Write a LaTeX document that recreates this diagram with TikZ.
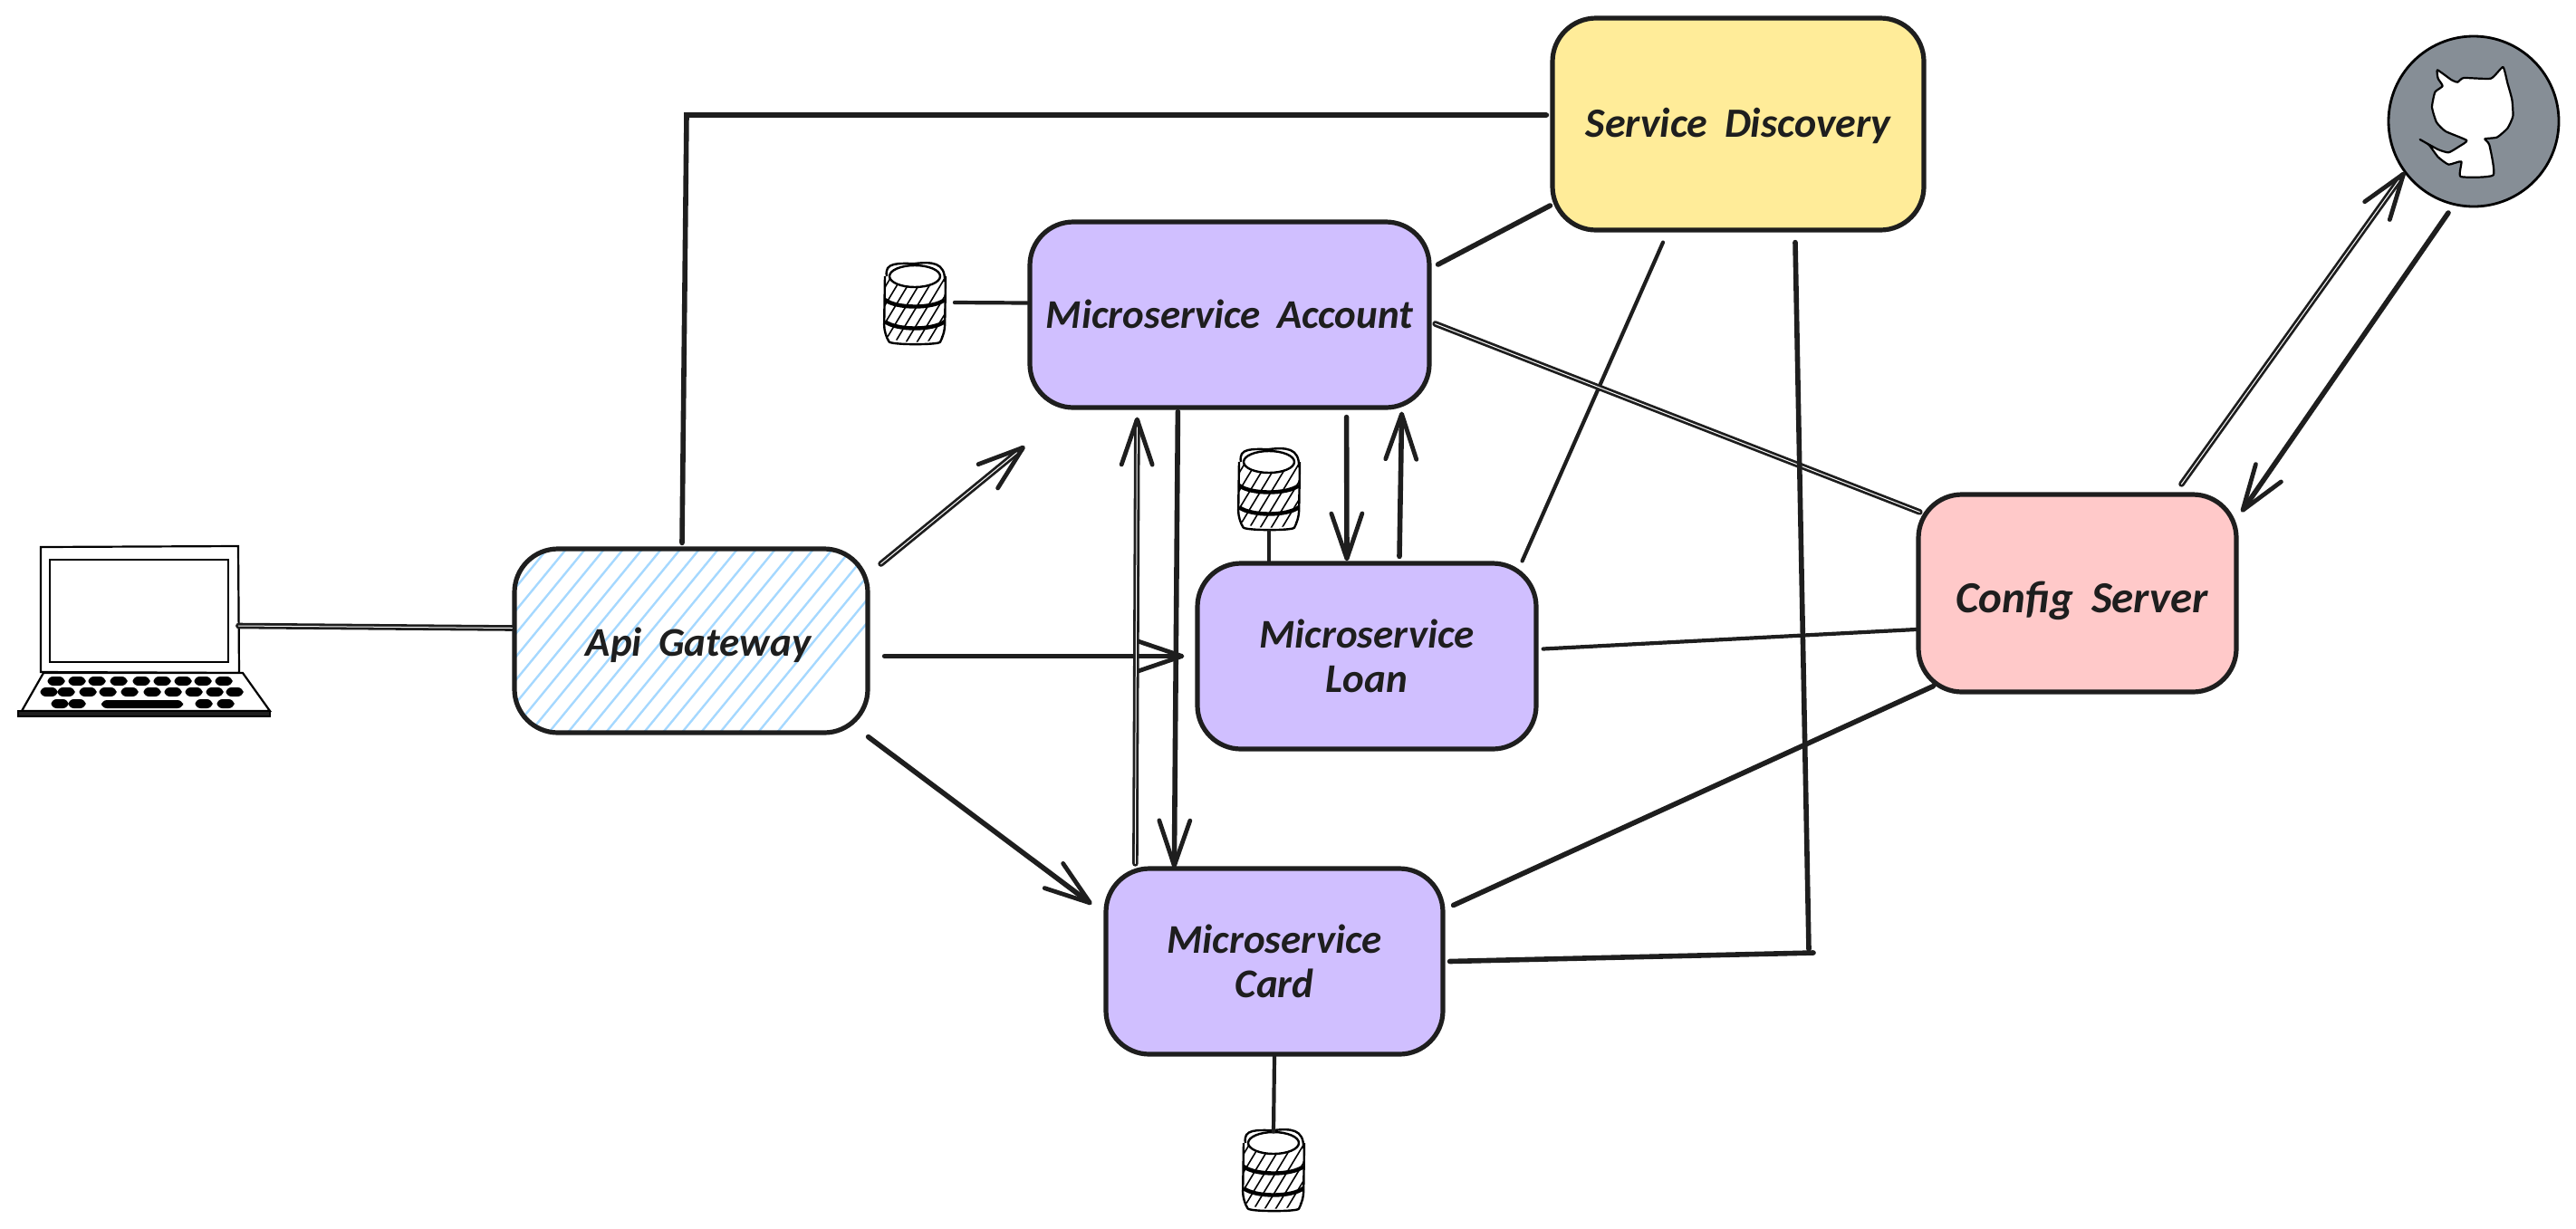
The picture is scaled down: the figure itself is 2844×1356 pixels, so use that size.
\documentclass[tikz,border=0pt]{standalone}
\usepackage{fontspec}
\setmainfont[WordSpace=1.8]{Carlito}
\usetikzlibrary{arrows.meta}
\definecolor{ink}{HTML}{1E1E1E}
\definecolor{purp}{HTML}{D0BFFF}
\definecolor{yel}{HTML}{FFEC99}
\definecolor{rose}{HTML}{FFC9C9}
\definecolor{hatchblue}{HTML}{A5D8FF}
\definecolor{ghgray}{HTML}{868E96}
\tikzset{
  box/.style={draw=ink,line width=2.6pt,rounded corners=24pt,inner sep=0pt,align=center,text=ink,
    font=\fontsize{22.5}{24.5}\selectfont\bfseries\itshape},
  link/.style={draw=ink,line width=2.8pt,line cap=round},
  thinlink/.style={draw=ink,line width=2.1pt,line cap=round},
  arr/.style={link,-{Straight Barb[length=25pt,width=17pt,line width=2.4pt,round]}},
  dbl/.style={double=white,double distance=0.5pt,line width=1.4pt},
  ghost/.style={inner sep=0pt,draw=none},
  dbicon/.pic={
    \begin{scope}
      \clip (-33,-32) -- (-33,33) .. controls (-28,46) and (28,46) .. (33,33) -- (33,-32) -- cycle;
      \foreach \i in {-8,...,8} \draw[black,line width=.8pt] (\i*12-26,50) -- (\i*12+26,-36);
    \end{scope}
    \draw[black,line width=1.2pt,rounded corners=5pt] (-33,-30) -- (-34,34) .. controls (-26,46) and (26,46) .. (33,34) -- (34,-30);
    \draw[black,line width=1.2pt] (-31,-30) .. controls (-34,-46) and (-18,-44) .. (0,-44) .. controls (18,-46) and (34,-46) .. (33,-24);
    \draw[black,line width=2.2pt] (-33,-4) .. controls (-20,6) and (20,6) .. (33,-4);
    \draw[black,line width=2.2pt] (-33,20) .. controls (-20,30) and (20,30) .. (33,20);
    \draw[black,line width=1.2pt,fill=white] (0,-30) ellipse [x radius=28,y radius=12];
  },
}
\begin{document}
\begin{tikzpicture}[x=0.5pt,y=-0.5pt]
\useasboundingbox (0,0) rectangle (2844,1356);

% nodes
\node[box,fill=yel,minimum width=205pt,minimum height=117pt] (sd) at (1919,137) {\fontsize{23}{25}\selectfont\raisebox{-7.1pt}[0pt][0pt]{Service Discovery}};
\node[box,fill=purp,minimum width=220.5pt,minimum height=102.5pt] (acc) at (1357.5,347.5) {\raisebox{1pt}{Microservice Account}};
\node[box,fill=purp,minimum width=187pt,minimum height=102.5pt] (loan) at (1509,724.5) {Microservice\\Loan};
\node[box,fill=purp,minimum width=186pt,minimum height=102.5pt] (card) at (1407,1061.5) {Microservice\\Card};
\node[box,fill=rose,minimum width=175.5pt,minimum height=109pt] (cfg) at (2293.5,655) {\fontsize{24.5}{27}\selectfont\hspace*{5pt}\raisebox{-10.5pt}[0pt][0pt]{Config Server}};
\node[box,minimum width=195pt,minimum height=101.5pt,
  path picture={
    \begin{scope}[shift={(path picture bounding box.center)}]
      \foreach \i in {0,...,30} \draw[hatchblue,line width=1.2pt] (\i*21-420,122) -- (\i*21-223,-118);
    \end{scope}
  }] (gw) at (763,707.5) {\hspace*{8pt}\raisebox{-8.6pt}[0pt][0pt]{Api Gateway}};

% laptop
\node[ghost,minimum width=139pt,minimum height=94pt] (laptop) at (159,697) {};
\begin{scope}[black]
  \draw[line width=1.1pt,fill=white] (45,604) -- (263,603) -- (264,743) -- (45,742) -- cycle;
  \draw[line width=1.3pt] (55,618) -- (252,618) -- (252,731) -- (55,731) -- cycle;
  \draw[line width=1.1pt,fill=white] (48,743) -- (268,743) -- (298,785) -- (24,785) -- cycle;
  \draw[line width=1.1pt,fill=ink] (20,785) rectangle (298,791);
  \foreach \kx in {62,85,107,131,156,179,202,224,247} \fill[rounded corners=3pt] (\kx-9.5,747) rectangle (\kx+9.5,757);
  \foreach \kx in {54,73,97,119,143,168,191,214,237,259} \fill[rounded corners=3pt] (\kx-9.5,759) rectangle (\kx+9.5,769);
  \foreach \kx in {66,85,225,249} \fill[rounded corners=3pt] (\kx-9.5,772) rectangle (\kx+9.5,782);
  \fill[rounded corners=3pt] (112,773) rectangle (202,782);
\end{scope}

% databases
\node[ghost,minimum width=35.5pt,minimum height=44pt] (db1) at (1010,335) {};
\pic at (db1) {dbicon};
\node[ghost,minimum width=35.5pt,minimum height=44pt] (db2) at (1401,540) {};
\pic at (db2) {dbicon};
\node[ghost,minimum width=35.5pt,minimum height=44pt] (db3) at (1406,1292) {};
\pic at (db3) {dbicon};

% github
\node[circle,fill=ghgray,draw=black,line width=1.4pt,minimum size=94pt,inner sep=0pt] (gh) at (2731,134) {};
\begin{scope}[shift={(2560,0)},x=0.16667pt,y=-0.16667pt]
  \draw[black,line width=1.1pt,fill=white,line join=round] plot[smooth cycle,tension=0.3] coordinates {
    (393,232) (440,265) (460,272) (480,258) (570,260) (610,222) (625,275) (640,330) (643,385) (625,425)
    (590,455) (550,460) (565,480) (578,580) (470,585) (472,535) (430,545) (395,520) (365,480) (335,462)
    (395,495) (430,505) (465,485) (490,465) (420,435) (390,405) (375,355) (385,305) (410,285) (395,260)};
\end{scope}

\coordinate (bend) at (758,127);
\coordinate (junc) at (2002,1052);

% connectors
\draw[link,dbl] ([shift={(-35,-6)}]laptop.east) -- ([shift={(0,-14)}]gw.west);
\draw[link] ([shift={(-10,-4)}]gw.north) -- (bend) -- ([shift={(-4,-10)}]sd.west);
\draw[arr,dbl] ([shift={(12,-85)}]gw.east) -- ([shift={(-3,40)}]acc.south west);
\draw[arr] ([shift={(16,17)}]gw.east) -- ([shift={(-12,0)}]loan.west);
\draw[arr] ([shift={(-2,2)}]gw.south east) -- ([shift={(-13,42)}]card.north west);
\draw[thinlink] ([shift={(8,-1)}]db1.east) -- ([shift={(0,-13)}]acc.west);
\draw[arr,dbl] ([shift={(35,-3)}]card.north west) -- ([shift={(121,8)}]acc.south west);
\draw[arr] ([shift={(166,2)}]acc.south west) -- ([shift={(78,2)}]card.north west);
\draw[arr] ([shift={(-94,8)}]acc.south east) -- ([shift={(-22,0)}]loan.north);
\draw[arr] ([shift={(36,-5)}]loan.north) -- ([shift={(-33,2)}]acc.south east);
\draw[thinlink] ([shift={(0,2)}]db2.south) -- ([shift={(-108,0)}]loan.north);
\draw[thinlink] (card.south) -- ([shift={(0,2)}]db3.north);
\draw[link] ([shift={(7,-55.5)}]acc.east) -- ([shift={(0,90)}]sd.west);
\draw[thinlink] ([shift={(-18,0)}]loan.north east) -- ([shift={(-83,11)}]sd.south);
\draw[link,dbl] ([shift={(4,10)}]acc.east) -- ([shift={(4,22)}]cfg.north west);
\draw[thinlink] ([shift={(5,-8)}]loan.east) -- ([shift={(0,40)}]cfg.west);
\draw[link] ([shift={(9,-62)}]card.east) -- ([shift={(19,-9)}]cfg.south west);
\draw[link] ([shift={(5,0)}]card.east) -- (junc);
\draw[link] ([shift={(63,11)}]sd.south) -- ([shift={(-5,-4)}]junc);
\draw[arr,dbl] ([shift={(115,-9)}]cfg.north) -- ([shift={(-76,56)}]gh.center);
\draw[arr] ([shift={(-28,101)}]gh.center) -- ([shift={(3,22)}]cfg.north east);
\end{tikzpicture}
\end{document}
